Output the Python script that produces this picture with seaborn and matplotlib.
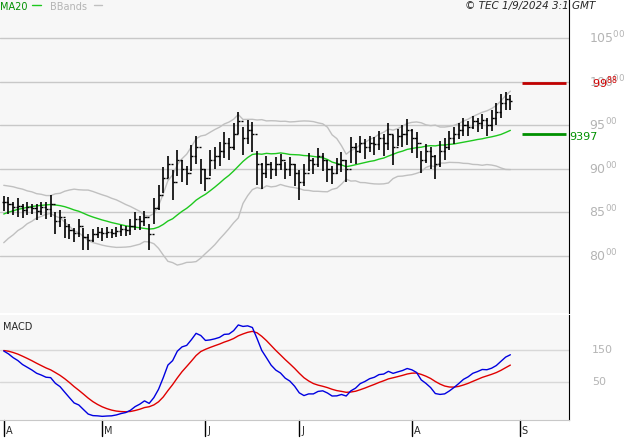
import matplotlib
matplotlib.use("Agg")
import matplotlib.pyplot as plt
import seaborn as sns
import numpy as np
import pandas as pd

# closes before the visible window (only used to warm up the indicators)
warmup_close = [7900, 7920, 7900, 7950, 7980, 7960, 8000, 7990, 8030, 8020,
                8060, 8050, 8100, 8090, 8150, 8200, 8180, 8250, 8240, 8320,
                8300, 8380, 8360, 8450, 8430, 8520, 8500, 8600, 8580, 8650,
                8660, 8640, 8680, 8650, 8640]

close = [8620, 8600, 8560, 8580, 8530, 8560, 8550, 8520, 8560, 8540, 8600,
         8400, 8450, 8340, 8300, 8260, 8340, 8220, 8180, 8250, 8280, 8260,
         8280, 8270, 8290, 8310, 8300, 8350, 8420, 8400, 8450, 8250,
         8550, 8700, 8900, 9050, 8850, 9100, 9000, 8950, 9150, 9250, 9000, 8900,
         9100, 9150, 9200, 9300, 9250, 9400, 9550, 9350, 9450, 9400,
         9050, 8950, 9050, 9000, 9050, 9100, 9000, 9050, 8950, 8850,
         8950, 9100, 9050, 9150, 9100, 9000, 8950, 9050, 9100, 9000,
         9250, 9200, 9300, 9250, 9300, 9280, 9350, 9300, 9400, 9250, 9380, 9400, 9450, 9350,
         9300, 9100, 9200, 9150, 9050, 9200, 9250, 9350, 9400, 9450,
         9500, 9480, 9550, 9520, 9560, 9500, 9580, 9650, 9750, 9800, 9780]

bar_range = [180, 200, 150, 220, 160, 140, 120, 180, 150, 200, 260,
             250, 200, 220, 180, 160, 200, 250, 180, 140, 120, 150,
             120, 100, 110, 130, 120, 180, 200, 160, 180, 300,
             300, 280, 300, 250, 350, 300, 250, 220, 300, 320, 280, 250,
             300, 250, 280, 300, 250, 300, 250, 320, 280, 350,
             400, 300, 250, 200, 220, 180, 200, 220, 250, 350,
             250, 200, 180, 220, 200, 250, 200, 180, 220, 250,
             300, 250, 200, 220, 180, 200, 220, 250, 300, 350, 200, 250, 300, 280,
             300, 250, 220, 250, 280, 300, 250, 220, 200, 180,
             200, 180, 150, 160, 180, 200, 250, 250, 280, 200, 180]

month_labels = ["A", "M", "J", "J", "A", "S"]
month_idx = [1, 22, 44, 64, 88, 111]

price_levels = [8000, 8500, 9000, 9500, 10000, 10500]
macd_levels = [50, 150]

last_close = 9988
ma_last = 9397

full = pd.Series(warmup_close + close, dtype=float)
ma20 = full.rolling(20).mean()
sd20 = full.rolling(20).std()
ema12 = full.ewm(span=12, adjust=False).mean()
ema26 = full.ewm(span=26, adjust=False).mean()
macd = ema12 - ema26
signal = macd.ewm(span=9, adjust=False).mean()

n0 = len(warmup_close)
x = np.arange(len(close))
df = pd.DataFrame({
    "x": x,
    "close": close,
    "rng": bar_range,
    "ma": ma20.values[n0:],
    "up": (ma20 + 2 * sd20).values[n0:],
    "lo": (ma20 - 2 * sd20).values[n0:],
    "macd": macd.values[n0:],
    "signal": signal.values[n0:],
})
df["high"] = df["close"] + df["rng"] * 0.4
df["low"] = df["close"] - df["rng"] * 0.6
df["open"] = df["close"].shift(1).fillna(df["close"])

sns.set_style("white")
fig = plt.figure(figsize=(6.27, 4.4), dpi=100)
fig.patch.set_facecolor("white")
ax = fig.add_axes([0, 0.289, 569 / 627, 0.711])
ax2 = fig.add_axes([0, 0.045, 569 / 627, 0.239])

xlim = (-0.8, 120.5)
for a in (ax, ax2):
    a.set_facecolor("#f7f7f7")
    for s in ("left", "top", "bottom"):
        a.spines[s].set_visible(False)
    a.spines["right"].set_color("black")
    a.set_xlim(*xlim)
    a.set_xticks([])
    a.set_yticks([])

# price panel
ax.set_ylim(7350, 10935)
for lvl in price_levels:
    ax.axhline(lvl, color="#c8c8c8", lw=1, zorder=0)
    ax.text(1.035, lvl, f"{lvl // 100}$^{{00}}$", transform=ax.get_yaxis_transform(),
            color="#b4b4b4", fontsize=9, ha="left", va="center", clip_on=False)

sns.lineplot(data=df, x="x", y="up", ax=ax, color="#c0c0c0", lw=1)
sns.lineplot(data=df, x="x", y="lo", ax=ax, color="#c0c0c0", lw=1)
sns.lineplot(data=df, x="x", y="ma", ax=ax, color="#1ec81e", lw=1)
ax.vlines(df["x"], df["low"], df["high"], color="black", lw=1.2)
ax.hlines(df["open"], df["x"] - 0.45, df["x"], color="black", lw=1)
ax.hlines(df["close"], df["x"], df["x"] + 0.45, color="black", lw=1)

ax.hlines(last_close, 110.5, 119.8, color="#c00000", lw=2)
ax.hlines(ma_last, 110.5, 119.8, color="#009000", lw=2)
ax.text(1.04, last_close, "99$^{88}$", transform=ax.get_yaxis_transform(),
        color="#d00000", fontsize=8, va="center", clip_on=False)
ax.text(1.0, ma_last - 30, "9397", transform=ax.get_yaxis_transform(),
        color="#009000", fontsize=8, va="center", clip_on=False)
ax.set_xlabel("")
ax.set_ylabel("")

fig.text(0.0, 0.995, "MA20", color="#009000", fontsize=7, va="top")
ax.plot([0.057, 0.072], [0.985, 0.985], transform=ax.transAxes, color="#1ec81e", lw=1, clip_on=False)
fig.text(0.08, 0.995, "BBands", color="#b4b4b4", fontsize=7, va="top")
ax.plot([0.165, 0.18], [0.985, 0.985], transform=ax.transAxes, color="#c0c0c0", lw=1, clip_on=False)
fig.text(0.845, 0.997, "© TEC 1/9/2024 3:1 GMT", fontsize=7.5, style="italic",
         ha="center", va="top")

# MACD panel
ax2.set_ylim(-69, 259)
for lvl in macd_levels:
    ax2.axhline(lvl, color="#d8d8d8", lw=1, zorder=0)
    ax2.text(1.04, lvl, f"{lvl}", transform=ax2.get_yaxis_transform(),
             color="#b4b4b4", fontsize=8, va="center", clip_on=False)
sns.lineplot(data=df, x="x", y="signal", ax=ax2, color="#e00000", lw=1)
sns.lineplot(data=df, x="x", y="macd", ax=ax2, color="#0000e0", lw=1)
ax2.text(0.005, 0.93, "MACD", transform=ax2.transAxes, fontsize=7, va="top")
ax2.set_xlabel("")
ax2.set_ylabel("")

# month markers
ax2.spines["bottom"].set_visible(True)
ax2.spines["bottom"].set_color("#c8c8c8")
for lab, i in zip(month_labels, month_idx):
    ax2.axvline(i - 1, ymin=-0.15, ymax=0, color="black", lw=1, clip_on=False)
    ax2.text(i - 0.6, -0.1, lab, transform=ax2.get_xaxis_transform(),
             fontsize=7, ha="left", va="center", clip_on=False)

fig.savefig("out.png", dpi=100)
